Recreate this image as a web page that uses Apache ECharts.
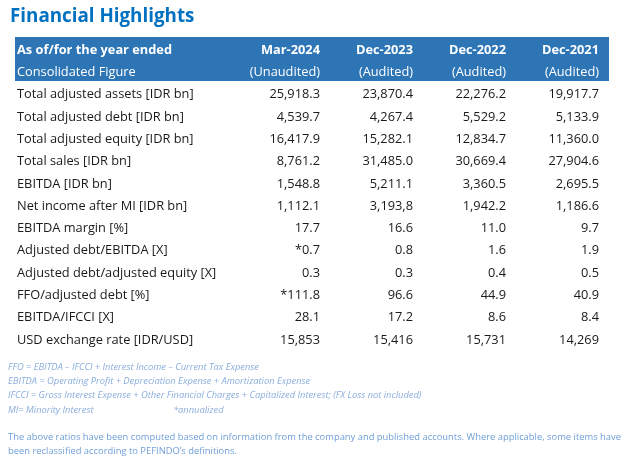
<!DOCTYPE html>
<html><head><meta charset="utf-8">
<script src="https://cdn.jsdelivr.net/npm/echarts@6/dist/echarts.min.js"></script>
<style>html,body{margin:0;padding:0;background:#fff}#c{width:642px;height:466px}</style>
</head><body><div id="c"></div>
<script>
const title = 'Financial Highlights';
const headerLabels = ['As of/for the year ended', 'Consolidated Figure'];
const periods = ['Mar-2024', 'Dec-2023', 'Dec-2022', 'Dec-2021'];
const auditStatus = ['(Unaudited)', '(Audited)', '(Audited)', '(Audited)'];
const rowLabels = [
  'Total adjusted assets [IDR bn]',
  'Total adjusted debt [IDR bn]',
  'Total adjusted equity [IDR bn]',
  'Total sales [IDR bn]',
  'EBITDA [IDR bn]',
  'Net income after MI [IDR bn]',
  'EBITDA margin [%]',
  'Adjusted debt/EBITDA [X]',
  'Adjusted debt/adjusted equity [X]',
  'FFO/adjusted debt [%]',
  'EBITDA/IFCCI [X]',
  'USD exchange rate [IDR/USD]'
];
const mar2024 = ['25,918.3','4,539.7','16,417.9','8,761.2','1,548.8','1,112.1','17.7','*0.7','0.3','*111.8','28.1','15,853'];
const dec2023 = ['23,870.4','4,267.4','15,282.1','31,485.0','5,211.1','3,193,8','16.6','0.8','0.3','96.6','17.2','15,416'];
const dec2022 = ['22,276.2','5,529.2','12,834.7','30,669.4','3,360.5','1,942.2','11.0','1.6','0.4','44.9','8.6','15,731'];
const dec2021 = ['19,917.7','5,133.9','11,360.0','27,904.6','2,695.5','1,186.6','9.7','1.9','0.5','40.9','8.4','14,269'];
const footnotes = [
  'FFO = EBITDA \u2013 IFCCI + Interest Income \u2013 Current Tax Expense',
  'EBITDA = Operating Profit + Depreciation Expense + Amortization Expense',
  'IFCCI = Gross Interest Expense + Other Financial Charges + Capitalized Interest; (FX Loss not included)',
  'MI= Minority Interest'
];
const annualNote = '*annualized';
const disclaimer = [
  'The above ratios have been computed based on information from the company and published accounts. Where applicable, some items have',
  'been reclassified according to PEFINDO\u2019s definitions.'
];

const FONT = 'Open Sans';
const FS = 12.8;
const columns = [mar2024, dec2023, dec2022, dec2021];
const yCats = headerLabels.concat(rowLabels);
const cells = [];
periods.forEach((p, c) => {
  cells.push([c, 0, p, 'h1']);
  cells.push([c, 1, auditStatus[c], 'h2']);
  columns[c].forEach((v, r) => cells.push([c, r + 2, v, 'd']));
});

const chart = echarts.init(document.getElementById('c'), null, {renderer: 'canvas'});
const gridTop = 39, rowH = 22.3;
const graphics = [
  {type: 'rect', left: 15, top: 37, shape: {width: 594, height: 44}, style: {fill: '#2E75B6'}, z: 0},
  {type: 'text', left: 10, top: 7, style: {text: title, font: 'bold 18.8px "' + FONT + '"', fill: '#0070C0'}}
];
const noteFont = 'italic 9.3px "' + FONT + '"';
footnotes.forEach((t, i) => graphics.push({type: 'text', left: 8, top: 362.5 + i * 14.3,
  style: {text: t, font: noteFont, fill: '#8AADDC'}}));
graphics.push({type: 'text', left: 173, top: 362.5 + 3 * 14.3, style: {text: annualNote, font: noteFont, fill: '#8AADDC'}});
disclaimer.forEach((t, i) => graphics.push({type: 'text', left: 8, top: 433 + i * 14,
  style: {text: t, font: '9.4px "' + FONT + '"', fill: '#6F9FD8'}}));

chart.setOption({
  animation: false,
  grid: {left: 237, right: 33, top: gridTop, height: rowH * yCats.length},
  xAxis: {type: 'category', data: periods, show: false},
  yAxis: {type: 'category', data: yCats, inverse: true,
    axisLine: {show: false}, axisTick: {show: false}, splitLine: {show: false},
    axisLabel: {align: 'left', margin: 220, fontFamily: FONT, fontSize: FS, color: '#1a1a1a',
      formatter: (v, i) => i === 0 ? '{h|' + v + '}' : (i === 1 ? '{s|' + v + '}' : v),
      rich: {h: {fontFamily: FONT, fontSize: FS, fontWeight: 'bold', color: '#fff'},
             s: {fontFamily: FONT, fontSize: FS, color: '#fff'}}}},
  graphic: graphics,
  series: [{
    type: 'custom', data: cells, z: 5,
    renderItem: (params, api) => {
      const pt = api.coord([api.value(0), api.value(1)]);
      const bw = api.size([1, 0])[0];
      const kind = cells[params.dataIndex][3];
      const txt = cells[params.dataIndex][2];
      return {type: 'text', style: {
        text: txt, x: pt[0] + bw / 2 - 10, y: pt[1], align: 'right', verticalAlign: 'middle',
        font: (kind === 'h1' ? 'bold ' : '') + FS + 'px "' + FONT + '"',
        fill: kind === 'd' ? '#1a1a1a' : '#fff'}};
    }
  }]
});
</script></body></html>
